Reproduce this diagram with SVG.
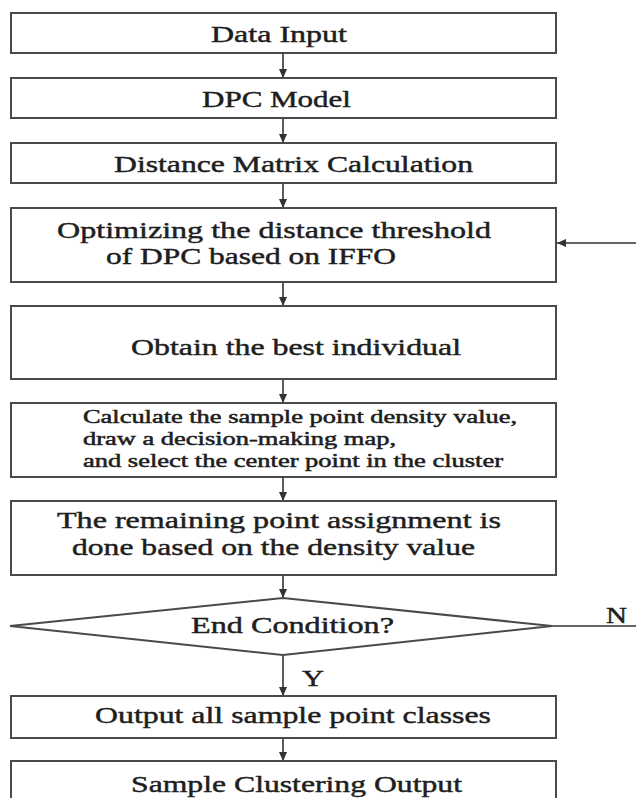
<svg xmlns="http://www.w3.org/2000/svg" width="636" height="798" viewBox="0 0 636 798">
  <style>
    .box { fill: #ffffff; stroke: #4a4a4a; stroke-width: 2; }
    .lbl { font-family: "Liberation Serif", "Times New Roman", serif; font-size: 24px; fill: #1e1e1e; stroke: #1e1e1e; stroke-width: 0.45; }
    .sm { font-size: 18px; stroke-width: 0.5; }
    .edge { fill: none; stroke: #333333; stroke-width: 1.6; }
  </style>
  <defs>
    <marker id="arrow" viewBox="0 0 10 10" refX="10" refY="5" markerWidth="9" markerHeight="9" markerUnits="userSpaceOnUse" orient="auto">
      <path d="M0,0.5 L10,5 L0,9.5 Z" fill="#333333"/>
    </marker>
  </defs>
  <rect width="636" height="798" fill="#ffffff"/>

  <!-- connectors -->
  <g id="connectors">
    <line class="edge" x1="283" y1="53" x2="283" y2="78" marker-end="url(#arrow)"/>
    <line class="edge" x1="283" y1="118" x2="283" y2="143" marker-end="url(#arrow)"/>
    <line class="edge" x1="283" y1="183" x2="283" y2="208" marker-end="url(#arrow)"/>
    <line class="edge" x1="283" y1="282" x2="283" y2="306" marker-end="url(#arrow)"/>
    <line class="edge" x1="283" y1="379" x2="283" y2="403" marker-end="url(#arrow)"/>
    <line class="edge" x1="283" y1="477" x2="283" y2="501" marker-end="url(#arrow)"/>
    <line class="edge" x1="283" y1="575" x2="283" y2="598" marker-end="url(#arrow)"/>
    <line class="edge" x1="283" y1="655" x2="283" y2="696" marker-end="url(#arrow)"/>
    <line class="edge" x1="283" y1="738" x2="283" y2="761" marker-end="url(#arrow)"/>
    <!-- loop back from the "N" branch -->
    <line class="edge" x1="552" y1="626" x2="636" y2="626"/>
    <line class="edge" x1="636" y1="243" x2="557" y2="243" marker-end="url(#arrow)"/>
    <text class="lbl" x="606" y="623" textLength="21" lengthAdjust="spacingAndGlyphs">N</text>
    <text class="lbl" x="302" y="686" textLength="22" lengthAdjust="spacingAndGlyphs">Y</text>
  </g>

  <g id="data-input">
    <rect class="box" x="11" y="13" width="545" height="40"/>
    <text class="lbl" x="211" y="42" textLength="136" lengthAdjust="spacingAndGlyphs">Data Input</text>
  </g>

  <g id="dpc-model">
    <rect class="box" x="11" y="78" width="545" height="40"/>
    <text class="lbl" x="202" y="107" textLength="149" lengthAdjust="spacingAndGlyphs">DPC Model</text>
  </g>

  <g id="distance-matrix">
    <rect class="box" x="11" y="143" width="545" height="40"/>
    <text class="lbl" x="114" y="172" textLength="359" lengthAdjust="spacingAndGlyphs">Distance Matrix Calculation</text>
  </g>

  <g id="optimize-threshold">
    <rect class="box" x="11" y="208" width="545" height="74"/>
    <text class="lbl" x="57" y="238" textLength="434" lengthAdjust="spacingAndGlyphs">Optimizing the distance threshold</text>
    <text class="lbl" x="106" y="264" textLength="290" lengthAdjust="spacingAndGlyphs">of DPC based on IFFO</text>
  </g>

  <g id="best-individual">
    <rect class="box" x="11" y="306" width="545" height="73"/>
    <text class="lbl" x="131" y="355" textLength="330" lengthAdjust="spacingAndGlyphs">Obtain the best individual</text>
  </g>

  <g id="density-centers">
    <rect class="box" x="11" y="403" width="545" height="74"/>
    <text class="lbl sm" x="83" y="423" textLength="434" lengthAdjust="spacingAndGlyphs">Calculate the sample point density value,</text>
    <text class="lbl sm" x="83" y="445" textLength="313" lengthAdjust="spacingAndGlyphs">draw a decision-making map,</text>
    <text class="lbl sm" x="83" y="467" textLength="420" lengthAdjust="spacingAndGlyphs">and select the center point in the cluster</text>
  </g>

  <g id="assign-remaining">
    <rect class="box" x="11" y="501" width="545" height="74"/>
    <text class="lbl" x="57" y="528" textLength="444" lengthAdjust="spacingAndGlyphs">The remaining point assignment is</text>
    <text class="lbl" x="72" y="555" textLength="403" lengthAdjust="spacingAndGlyphs">done based on the density value</text>
  </g>

  <g id="end-condition">
    <polygon class="box" points="10,626 283,598 552,626 283,655"/>
    <text class="lbl" x="191" y="633" textLength="203" lengthAdjust="spacingAndGlyphs">End Condition?</text>
  </g>

  <g id="output-classes">
    <rect class="box" x="11" y="696" width="545" height="42"/>
    <text class="lbl" x="95" y="723" textLength="396" lengthAdjust="spacingAndGlyphs">Output all sample point classes</text>
  </g>

  <g id="clustering-output">
    <rect class="box" x="11" y="761" width="545" height="50"/>
    <text class="lbl" x="131" y="792" textLength="331" lengthAdjust="spacingAndGlyphs">Sample Clustering Output</text>
  </g>
</svg>
